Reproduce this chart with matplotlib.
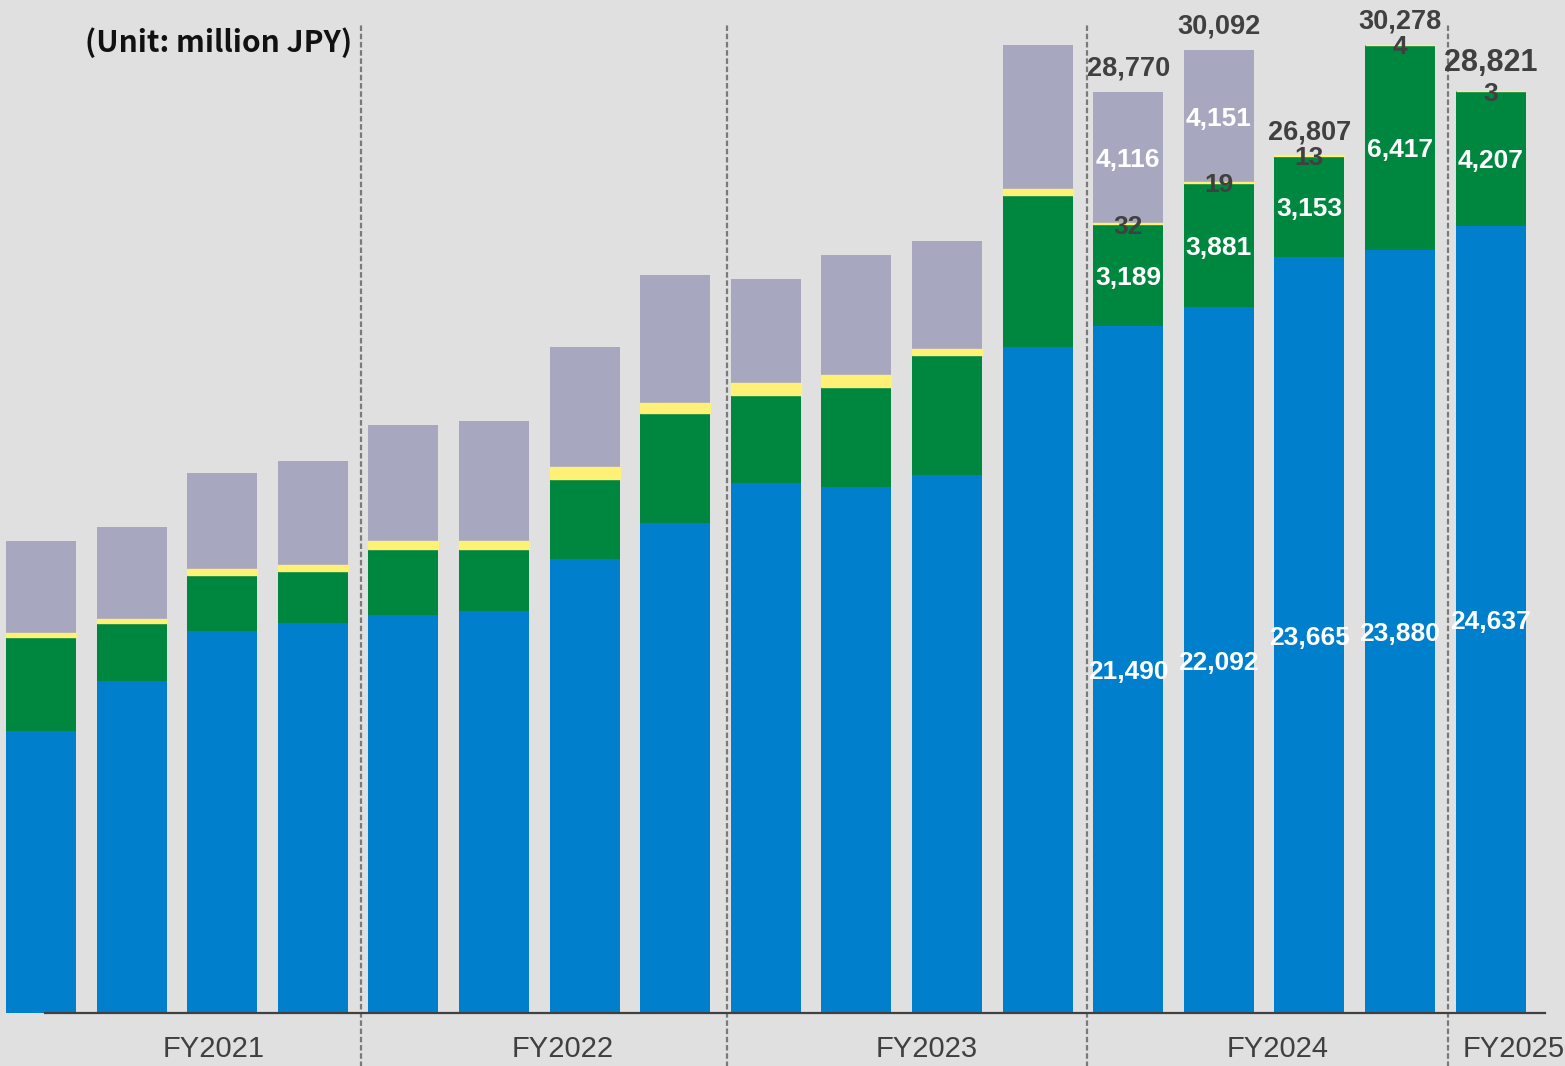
import matplotlib
matplotlib.use("Agg")
import matplotlib.pyplot as plt
import numpy as np

# quarterly sales by segment (million JPY), FY2021 Q1 .. FY2025 Q1
blue = [8823, 10388, 11952, 12203, 12453, 12578, 14205, 15332,
        16583, 16458, 16834, 20839, 21490, 22092, 23665, 23880, 24637]
green = [2941, 1815, 1752, 1627, 2065, 1940, 2503, 3442,
         2753, 3129, 3755, 4756, 3189, 3881, 3153, 6417, 4207]
yellow = [125, 125, 188, 188, 250, 250, 375, 313,
          375, 375, 188, 188, 32, 19, 13, 4, 3]
grey = [2879, 2879, 3004, 3254, 3630, 3755, 3755, 4005,
        3254, 3755, 3379, 4506, 4116, 4151, 0, 0, 0]
totals = {12: "28,770", 13: "30,092", 14: "26,807", 15: "30,278", 16: "28,821"}

years = ["FY2021", "FY2022", "FY2023", "FY2024", "FY2025"]
year_pos = [1.90, 5.76, 9.78, 13.65, 16.25]
year_breaks = [3.53, 7.57, 11.55, 15.53]

BG = "#e0e0e0"
C_BLUE = "#0080cc"
C_GREEN = "#00873f"
C_YELLOW = "#fff176"
C_GREY = "#a7a7bf"
DARK = "#404040"

fig = plt.figure(figsize=(15.65, 10.66), dpi=100, facecolor=BG)
ax = fig.add_axes([0, 53 / 1066, 1, 1013 / 1066])
ax.set_facecolor(BG)

x = np.arange(len(blue))
w = 0.773
b = np.array(blue, float)
g = np.array(green, float)
yl = np.array(yellow, float)
gr = np.array(grey, float)

ax.bar(x, b, w, color=C_BLUE, zorder=2)
ax.bar(x, g, w, bottom=b, color=C_GREEN, zorder=2)
ax.bar(x, yl, w, bottom=b + g, color=C_YELLOW, edgecolor=C_YELLOW,
       linewidth=1.0, zorder=3)
ax.bar(x, gr, w, bottom=b + g + yl, color=C_GREY, zorder=2)

ax.set_xlim(-41 / 90.6, (1565 - 41) / 90.6)
ax.set_ylim(0, 1013 / 0.03196)

for s in ax.spines.values():
    s.set_visible(False)
ax.set_yticks([])
ax.set_xticks(year_pos)
ax.set_xticklabels(years, fontsize=21, color=DARK, family="Liberation Sans")
ax.tick_params(axis="x", length=0, pad=16)

# baseline
ax.axhline(0, xmin=45 / 1565, xmax=1545 / 1565, color=DARK, lw=1.6,
           clip_on=False, zorder=4)

# fiscal year separators
ax.vlines(year_breaks, -1700, 30945, colors="#7a7a7a", linestyles=(0, (2.5, 1.2)),
          lw=1.6, clip_on=False, zorder=1)

lab = dict(family="Liberation Sans", weight="bold", ha="center", va="center",
           textcoords="offset points", zorder=5)


def seg_label(i, value, bottom, color):
    ax.annotate(f"{value:,}", (x[i], bottom + value / 2), xytext=(0, -2),
                fontsize=19, color=color, **lab)


for i in totals:
    seg_label(i, blue[i], 0, "white")
    seg_label(i, green[i], b[i], "white")
    seg_label(i, yellow[i], b[i] + g[i], DARK)
    if grey[i]:
        seg_label(i, grey[i], b[i] + g[i] + yl[i], "white")
    top = b[i] + g[i] + yl[i] + gr[i]
    big = i == len(blue) - 1
    ax.annotate(totals[i], (x[i], top), xytext=(0, 20 if big else 16.5),
                fontsize=22 if big else 19.5, color=DARK, **lab)

fig.text(85 / 1565, 1 - 43 / 1066, "(Unit: million JPY)", fontsize=21.5,
         weight="bold", family=["Noto Sans CJK JP", "DejaVu Sans"],
         color="#111111", va="center")

fig.savefig("out.png", dpi=100, facecolor=BG)
